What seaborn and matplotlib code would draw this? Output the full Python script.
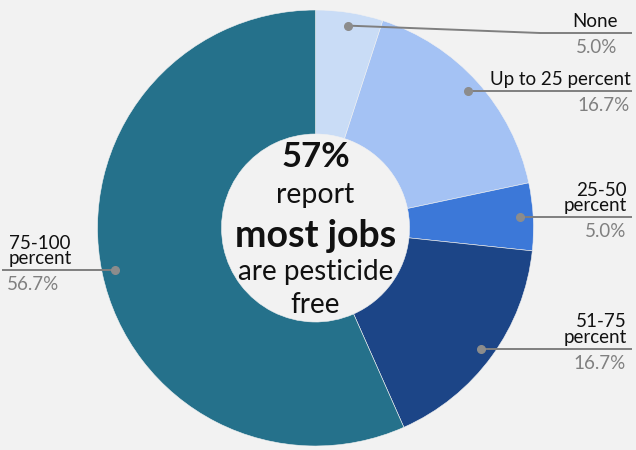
import numpy as np
import matplotlib
matplotlib.use("Agg")
import matplotlib.pyplot as plt
import seaborn as sns

# Share of respondents by how many of their jobs are pesticide free
categories = ["None", "Up to 25 percent", "25-50\npercent", "51-75\npercent", "75-100\npercent"]
shares = [5.0, 16.7, 5.0, 16.7, 56.7]
share_labels = ["5.0%", "16.7%", "5.0%", "16.7%", "56.7%"]
colors = ["#c9dcf6", "#a4c2f4", "#3c78d8", "#1c4587", "#25718b"]

headline = "57%"

W, H = 636, 450
BG = "#f2f2f2"

sns.set_style("white")
plt.rcParams["font.family"] = ["Lato", "DejaVu Sans"]

fig = plt.figure(figsize=(W / 100, H / 100), dpi=100, facecolor=BG)
ax = fig.add_axes([0, 0, 1, 1])
ax.set_facecolor(BG)


def Y(py):
    return H - py


cx, cy = 315.5, Y(228)
R_out, R_in = 218, 94

wedges, _ = ax.pie(
    shares, colors=colors, startangle=90, counterclock=False,
    center=(cx, cy), radius=R_out, frame=True,
    wedgeprops=dict(width=R_out - R_in, edgecolor=BG, linewidth=0.4),
)
ax.set_xlim(0, W)
ax.set_ylim(0, H)
ax.set_aspect("equal")
ax.axis("off")

# label layout: (line y, side, elbow x, text right edge)
layout = [
    (33, "right", 540, 618),
    (None, "right", None, 631),
    (None, "right", None, 627),
    (None, "right", None, 627),
    (None, "left", None, None),
]

line_color = "#7f7f7f"
for w, name, pct, (ly, side, elbow, rx) in zip(wedges, categories, share_labels, layout):
    mid = np.deg2rad((w.theta1 + w.theta2) / 2)
    dx = cx + 0.94 * R_out * np.cos(mid)
    dy = cy + 0.94 * R_out * np.sin(mid)
    line_y = Y(ly) if ly is not None else dy
    if side == "right":
        x_end = 632
        if elbow is not None:
            xs, ys = [dx, elbow, x_end], [dy, line_y, line_y]
        else:
            xs, ys = [dx, x_end], [dy, line_y]
        ax.text(rx, line_y + 3, name, ha="right", va="bottom", fontsize=13.5,
                color="#111111", linespacing=0.9, multialignment="right")
        ax.text(rx - 1, line_y - 6, pct, ha="right", va="top", fontsize=13.5, color="#808080")
    else:
        x_end = 2
        xs, ys = [dx, x_end], [dy, line_y]
        ax.text(40, line_y + 3, name, ha="center", va="bottom", fontsize=13.5,
                color="#111111", linespacing=0.9, multialignment="center")
        ax.text(7, line_y - 6, pct, ha="left", va="top", fontsize=13.5, color="#808080")
    ax.plot(xs, ys, color=line_color, lw=1.4, solid_capstyle="butt", zorder=3)
    ax.plot([dx], [dy], "o", color="#8c8c8c", ms=5.5, zorder=4)

# centre message
ax.text(cx, Y(157), headline, ha="center", va="center", fontsize=25, fontweight="bold", color="#111111")
ax.text(cx, Y(195), "report", ha="center", va="center", fontsize=20.5, color="#111111")
ax.text(cx, Y(236), "most jobs", ha="center", va="center", fontsize=27, fontweight="bold", color="#111111")
ax.text(cx, Y(272), "are pesticide", ha="center", va="center", fontsize=20, color="#111111")
ax.text(cx, Y(305), "free", ha="center", va="center", fontsize=20, color="#111111")

fig.savefig("out.png", dpi=100, facecolor=BG)
